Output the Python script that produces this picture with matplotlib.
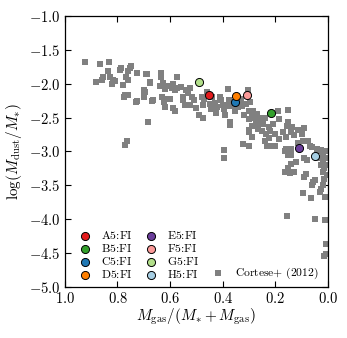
import numpy as np
import matplotlib
matplotlib.use('Agg')
import matplotlib.pyplot as plt
from matplotlib.ticker import FuncFormatter, MultipleLocator

plt.rcParams['mathtext.fontset'] = 'cm'
plt.rcParams['font.family'] = 'serif'
plt.rcParams['font.serif'] = ['DejaVu Serif']

# ---- Cortese+ (2012) sample ----
cortese_x = [
    0.924, 0.867, 0.833, 0.88, 0.86, 0.855, 0.835, 0.83, 0.816, 0.82, 0.81, 0.79, 0.785, 0.778,
    0.766, 0.76, 0.753, 0.75, 0.727, 0.76, 0.772, 0.76, 0.727, 0.69, 0.677, 0.70, 0.695, 0.664,
    0.636, 0.635, 0.626, 0.64, 0.62, 0.61, 0.594, 0.575, 0.59, 0.575, 0.56, 0.632, 0.625, 0.62,
    0.61, 0.60, 0.588, 0.58, 0.683, 0.73, 0.67, 0.70, 0.70, 0.777, 0.678, 0.687,
    0.55, 0.55, 0.545, 0.531, 0.525, 0.515, 0.51, 0.525, 0.50, 0.49, 0.474, 0.474, 0.47, 0.461,
    0.45, 0.445, 0.43, 0.425, 0.41, 0.405, 0.40, 0.395, 0.39, 0.379, 0.375, 0.375, 0.373, 0.373,
    0.36, 0.355, 0.335, 0.33, 0.325, 0.32, 0.322, 0.30, 0.303, 0.295, 0.30, 0.29, 0.30, 0.285,
    0.28, 0.275, 0.27, 0.29, 0.30, 0.29, 0.27, 0.265, 0.25, 0.245, 0.235, 0.225, 0.225, 0.24,
    0.23, 0.215, 0.58, 0.54, 0.48, 0.44, 0.42, 0.35, 0.34, 0.31, 0.26, 0.26, 0.24, 0.22, 0.20,
    0.21, 0.30,
    0.189, 0.151, 0.185, 0.17, 0.185, 0.16, 0.155, 0.15, 0.14, 0.135, 0.13, 0.115, 0.10, 0.09,
    0.095, 0.115, 0.075, 0.07, 0.06, 0.04, 0.14, 0.16,
    0.772, 0.765, 0.394, 0.394, 0.20, 0.163, 0.15, 0.14, 0.163, 0.15, 0.145, 0.14, 0.13, 0.12,
    0.09, 0.08, 0.09, 0.085, 0.094, 0.065, 0.06, 0.055, 0.05, 0.03, 0.025, 0.02, 0.02, 0.015,
    0.02, 0.015, 0.02, 0.03, 0.025, 0.157, 0.05, 0.01, 0.01, 0.008, 0.015, 0.008, 0.035, 0.025,
    0.01, 0.01, 0.005, 0.005,
]
cortese_y = [
    -1.68, -1.71, -1.68, -1.98, -1.94, -1.90, -1.81, -1.90, -1.94, -2.00, -1.96, -1.80, -1.77, -2.02,
    -1.90, -1.82, -1.77, -1.74, -1.85, -1.95, -2.17, -2.17, -2.26, -1.86, -1.97, -2.09, -2.13, -2.24,
    -1.84, -1.90, -1.99, -2.04, -2.08, -2.03, -2.07, -1.90, -2.00, -2.06, -2.05, -2.19, -2.27, -2.34,
    -2.23, -2.23, -2.36, -2.40, -2.57, -2.27, -2.25, -2.17, -2.20, -2.19, -1.99, -1.86,
    -2.24, -2.20, -2.31, -2.14, -2.07, -2.20, -2.24, -2.31, -2.36, -2.46, -2.51, -2.31, -2.23, -2.12,
    -2.30, -2.38, -2.29, -2.44, -2.19, -2.24, -2.31, -2.38, -2.46, -2.08, -2.24, -2.33, -2.56, -2.61,
    -2.33, -2.40, -2.29, -2.22, -2.33, -2.46, -2.89, -2.92, -2.10, -2.27, -2.40, -2.45, -2.52, -2.40,
    -2.50, -2.55, -2.45, -2.63, -2.72, -2.79, -2.60, -2.67, -2.70, -2.60, -2.75, -2.80, -2.64, -2.85,
    -2.92, -2.92, -2.10, -2.10, -2.20, -2.20, -2.35, -2.30, -2.35, -2.30, -2.50, -2.55, -2.50, -2.70,
    -2.75, -2.60, -2.68,
    -2.41, -2.39, -2.52, -2.71, -2.81, -2.78, -2.63, -2.56, -2.71, -2.64, -2.76, -2.69, -2.74, -2.66,
    -2.84, -2.87, -2.84, -2.92, -2.94, -2.96, -2.96, -2.97,
    -2.90, -2.85, -2.98, -3.09, -2.92, -3.00, -3.05, -3.05, -3.30, -3.25, -3.32, -3.18, -3.30, -3.15,
    -3.10, -3.13, -3.38, -3.33, -3.62, -3.69, -3.50, -3.45, -3.42, -3.10, -3.20, -3.05, -3.15, -3.25,
    -3.30, -3.40, -3.50, -3.60, -3.55, -3.95, -4.00, -4.01, -3.67, -4.36, -4.55, -4.52, -3.00, -2.98,
    -3.00, -3.10, -3.20, -3.35,
]

# ---- simulation runs ----
run_labels = ['A5:FI', 'B5:FI', 'C5:FI', 'D5:FI', 'E5:FI', 'F5:FI', 'G5:FI', 'H5:FI']
run_x = [0.451, 0.218, 0.352, 0.349, 0.111, 0.309, 0.490, 0.048]
run_y = [-2.17, -2.44, -2.27, -2.18, -2.95, -2.17, -1.98, -3.07]
run_colors = ['#e31a1c', '#33a02c', '#1f78b4', '#ff7f00', '#6a3d9a', '#fb9a99', '#b2df8a', '#a6cee3']

fig = plt.figure(figsize=(3.47, 3.38), dpi=100)
ax = fig.add_axes([0.187, 0.151, 0.758, 0.802])

cort = ax.scatter(cortese_x, cortese_y, marker='s', s=17, color='#808080', linewidths=0,
                  label=r'$\text{Cortese+ (2012)}$', zorder=2)

handles = []
for lab, x, y, c in zip(run_labels, run_x, run_y, run_colors):
    h = ax.scatter([x], [y], s=34, color=c, edgecolors='black', linewidths=0.7,
                   label=r'$\text{' + lab + '}$', zorder=3)
    handles.append(h)

ax.set_xlim(1.0, 0.0)
ax.set_ylim(-5.0, -1.0)
ax.xaxis.set_major_locator(MultipleLocator(0.2))
ax.yaxis.set_major_locator(MultipleLocator(0.5))
fmt = FuncFormatter(lambda v, p: r'$%.1f$' % v)
ax.xaxis.set_major_formatter(fmt)
ax.yaxis.set_major_formatter(fmt)
ax.tick_params(direction='in', top=True, right=True, length=4, width=0.8, labelsize=10.5, pad=3)
for sp in ax.spines.values():
    sp.set_linewidth(0.9)

ax.set_xlabel(r'$M_{\rm gas}/(M_{*}+M_{\rm gas})$', fontsize=11, labelpad=0)
ax.set_ylabel(r'$\log(M_{\rm dust}/M_{*})$', fontsize=11, labelpad=4)

leg1 = ax.legend(handles=handles, loc='lower left', bbox_to_anchor=(0.044, 0.022), ncol=2,
                 frameon=False, fontsize=8.5, scatterpoints=1, handletextpad=0.7,
                 columnspacing=0.8, labelspacing=0.0, borderaxespad=0, borderpad=0,
                 handlelength=1.4)
ax.add_artist(leg1)
ax.legend(handles=[cort], loc='lower right', bbox_to_anchor=(0.966, 0.022), frameon=False,
          fontsize=8.3, scatterpoints=1, handletextpad=0.8, borderaxespad=0, borderpad=0,
          handlelength=1.5)

fig.savefig('out.png', dpi=100)
